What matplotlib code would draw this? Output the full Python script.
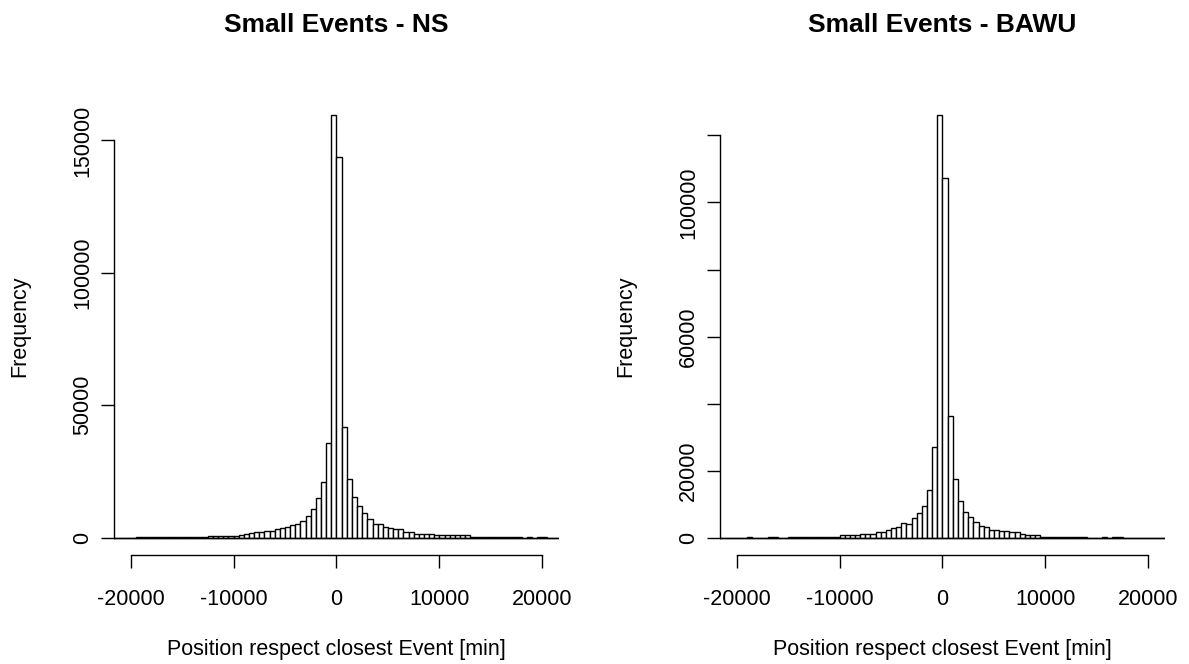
import numpy as np
import matplotlib
matplotlib.use("Agg")
import matplotlib.pyplot as plt

plt.rcParams['font.family'] = ['Liberation Sans', 'DejaVu Sans']

# histogram bins: 500 min wide, from -22000 to 22000 (88 bins)
bin_edges = np.arange(-22000, 22001, 500)

# counts per bin, Small Events - NS
ns_counts = (
    [0] * 5 + [400] * 14 + [800] * 6 +
    [900, 1400, 1800, 2000, 2000, 2700, 2700, 3200, 3500, 4200,
     4800, 5200, 6400, 8300, 11000, 14900, 21200, 35800, 159500,
     143800, 41900, 22200, 15300, 12100, 9300, 6900, 5200, 5200,
     4000, 3800, 3100, 3100, 2000, 2000, 1500, 1500, 1500, 1500, 900] +
    [900] * 6 + [400] * 10 +
    [0, 300, 0, 300, 300] + [0] * 3
)

# counts per bin, Small Events - BAWU
bawu_counts = (
    [0] * 6 + [300, 0, 0, 0, 300, 300, 0, 0] + [200] * 10 +
    [700, 700, 700, 700, 1100, 1100, 1100, 1600, 1600, 2300,
     2800, 3300, 4500, 4000, 5800, 7500, 9600, 14300, 27000, 126000,
     107400, 36200, 17600, 10800, 7800, 6200, 4800, 3600, 3200, 2300,
     2300, 2000, 2000, 1600, 1600, 1100, 800, 800, 800] +
    [300] * 9 + [0, 0, 0, 300, 0, 300, 300] + [0] * 9
)

titles = ["Small Events - NS", "Small Events - BAWU"]
x_ticks = [-20000, -10000, 0, 10000, 20000]
ns_yticks = [0, 50000, 100000, 150000]
ns_ylabels = ["0", "50000", "100000", "150000"]
bawu_yticks = [0, 20000, 40000, 60000, 80000, 100000, 120000]
bawu_ylabels = ["0", "20000", "", "60000", "", "100000", ""]

W, H = 1189, 664
fig = plt.figure(figsize=(W / 100, H / 100), dpi=100)

panels = [
    (114.3, ns_counts, ns_yticks, ns_ylabels, titles[0]),
    (720.3, bawu_counts, bawu_yticks, bawu_ylabels, titles[1]),
]

for left_px, counts, yticks, ylabels, title in panels:
    ax = fig.add_axes([left_px / W, (H - 554.6) / H, 444.4 / W, 456.2 / H])
    # empty bins still get their bottom edge, like R's hist
    ax.hlines(0, bin_edges[0], bin_edges[-1], color='black', linewidth=1.0)
    ax.bar(bin_edges[:-1], counts, width=500, align='edge',
           facecolor='white', edgecolor='black', linewidth=1.0)

    ymax = max(counts)
    ax.set_xlim(-21600, 21600)
    ax.set_ylim(-0.04 * ymax, 1.04 * ymax)

    for side in ['top', 'right']:
        ax.spines[side].set_visible(False)
    ax.spines['left'].set_bounds(yticks[0], yticks[-1])
    ax.spines['bottom'].set_bounds(x_ticks[0], x_ticks[-1])
    ax.spines['left'].set_linewidth(1.0)
    ax.spines['bottom'].set_linewidth(1.0)

    ax.set_xticks(x_ticks)
    ax.set_xticklabels([str(v) for v in x_ticks])
    ax.set_yticks(yticks)
    ax.set_yticklabels(ylabels, rotation=90, va='center')
    ax.tick_params(axis='both', direction='out', length=9.4, width=1.0,
                   labelsize=15.5)
    ax.tick_params(axis='x', pad=15.5)
    ax.tick_params(axis='y', pad=6)

    ax.set_title(title, fontsize=19, fontweight='bold', pad=48)
    ax.set_xlabel("Position respect closest Event [min]", fontsize=15.5,
                  labelpad=21)
    ax.set_ylabel("Frequency", fontsize=15.5, labelpad=30)

fig.savefig("out.png", dpi=100)
